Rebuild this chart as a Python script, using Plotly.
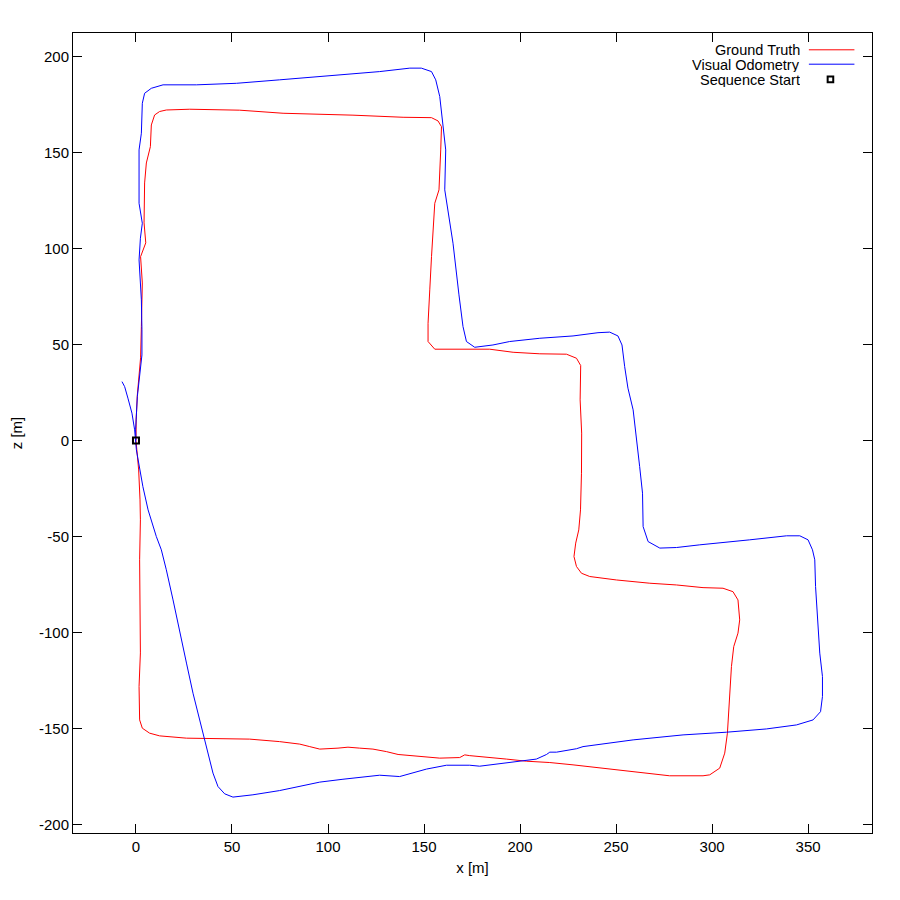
import plotly.graph_objects as go

# ground truth trajectory (x, z in metres)
gt_x = [0, 0.1, 0.7, 1.6, 2.4, 2.8, 3.3, 2.4, 5.1, 4.2, 4.5, 5.4, 7.5, 8.0, 9.7, 12.3, 15.8,
        28.0, 54.0, 76.6, 95.7, 113.0, 139.1, 153.9, 157.3, 159.1, 158.7, 157.8, 155.6, 154.7,
        153.9, 153.0, 152.1, 152.1, 155.6, 184.2, 196.4, 210.3, 224.2, 229.4, 231.6, 231.3,
        232.1, 232.0, 231.5, 230.6, 229.0, 228.1, 229.4, 232.0, 236.3, 250.2, 267.6, 281.5,
        295.3, 305.7, 310.9, 313.5, 314.4, 313.5, 311.3, 310.1, 309.2, 308.0, 306.6, 304.0,
        298.8, 295.3, 277.9, 258.9, 241.5, 227.6, 215.5, 203.3, 192.9, 182.5, 173.8, 171.2,
        168.6, 158.2, 151.3, 144.3, 136.5, 130.4, 123.4, 116.5, 110.4, 105.2, 95.7, 90.5,
        85.3, 74.8, 59.2, 26.3, 12.3, 7.1, 3.3, 1.9, 1.6, 2.3, 1.9, 2.3, 2.1, 1.4, 0.4, 0]
gt_z = [0, 10.7, 23.7, 34.1, 43.0, 59.3, 82.0, 95.7, 102.9, 113.3, 134.1, 144.5, 153.0, 164.3,
        169.5, 171.3, 172.1, 172.5, 172.0, 170.4, 170.0, 169.4, 168.3, 168.1, 166.4, 163.4,
        151.3, 130.5, 123.5, 111.4, 95.7, 78.4, 61.0, 51.5, 47.5, 47.5, 45.9, 45.1, 44.9,
        42.8, 39.0, 21.1, 3.8, -17.1, -36.2, -46.6, -53.5, -60.5, -65.7, -69.2, -70.9, -72.7,
        -74.4, -75.3, -76.7, -77.0, -78.8, -83.1, -93.5, -100.4, -107.4, -117.8, -133.4,
        -152.5, -162.9, -170.7, -174.2, -174.7, -174.7, -172.5, -170.4, -169.0, -167.8,
        -167.1, -166.0, -165.2, -164.2, -163.8, -165.2, -165.5, -165.0, -164.3, -163.6,
        -162.1, -160.8, -160.3, -159.8, -160.3, -160.8, -159.5, -158.2, -156.9, -155.6,
        -155.1, -153.9, -152.5, -149.9, -145.6, -128.2, -110.7, -62.2, -41.4, -31.0, -15.4,
        -6.5, 0]

# visual odometry trajectory
vo_x = [0, -0.2, 0.7, 1.9, 3.1, 3.1, 2.8, 1.6, 2.3, 3.3, 1.6, 1.6, 2.8, 3.3, 4.5, 8.0, 14.1,
        31.5, 52.3, 74.8, 92.2, 109.6, 126.9, 142.6, 148.6, 153.9, 156.1, 158.2, 161.3, 160.8,
        162.5, 165.1, 168.2, 170.3, 172.1, 176.4, 185.9, 194.6, 210.3, 227.6, 240.6, 246.7,
        251.0, 253.1, 254.5, 256.2, 258.9, 260.9, 262.3, 263.8, 264.1, 266.7, 272.8, 281.5,
        293.6, 319.6, 338.8, 345.7, 350.0, 352.3, 353.5, 353.9, 354.9, 356.1, 357.5, 357.5,
        356.5, 352.6, 344.0, 328.3, 307.5, 284.9, 258.9, 232.8, 229.4, 219.0, 215.5, 213.8,
        208.5, 199.8, 189.4, 179.0, 173.8, 161.7, 151.3, 144.3, 137.3, 126.9, 120.0, 107.8,
        95.7, 85.3, 74.8, 60.9, 50.5, 46.2, 42.7, 40.1, 36.7, 33.2, 29.7, 26.3, 22.8, 19.3,
        15.8, 13.2, 10.6, 8.0, 6.3, 3.6, 1.9, 0.2, -0.7, -2.1, -4.2, -5.9, -7.3]
vo_z = [0, 5.5, 22.8, 35.0, 44.5, 57.6, 73.2, 94.0, 105.3, 113.1, 123.5, 151.3, 160.0, 175.6,
        180.8, 183.4, 185.2, 185.2, 186.0, 187.8, 189.2, 190.9, 192.1, 193.9, 193.9, 192.1,
        187.8, 179.1, 151.3, 130.5, 120.1, 102.7, 75.8, 59.3, 51.5, 48.5, 49.7, 51.5, 53.2,
        54.4, 56.1, 56.4, 54.4, 49.7, 38.4, 27.2, 15.9, 0.3, -13.6, -27.5, -44.9, -52.7,
        -56.1, -55.8, -54.4, -51.8, -49.7, -49.7, -51.8, -57.0, -62.2, -76.1, -93.5, -110.8,
        -123.0, -133.4, -141.3, -145.6, -148.2, -150.3, -152.0, -153.4, -156.0, -159.5,
        -160.6, -162.4, -162.4, -163.6, -166.0, -167.1, -168.5, -169.7, -169.2, -169.2,
        -171.2, -173.3, -175.1, -174.4, -175.1, -176.5, -178.0, -180.3, -182.4, -184.6,
        -185.8, -184.1, -180.3, -173.3, -159.5, -145.6, -131.7, -116.0, -100.4, -83.1, -67.4,
        -57.0, -50.1, -41.4, -36.2, -24.1, -13.6, -4.9, 5.5, 14.2, 22.0, 28.0, 30.6]

start_x = [0]
start_z = [0]

# tick labels (gnuplot prints a plain hyphen for negatives)
x_ticks = [0, 50, 100, 150, 200, 250, 300, 350]
x_labels = ["0", "50", "100", "150", "200", "250", "300", "350"]
y_ticks = [-200, -150, -100, -50, 0, 50, 100, 150, 200]
y_labels = ["-200", "-150", "-100", "-50", "0", "50", "100", "150", "200"]

FONT = "Liberation Sans, Arial, sans-serif"

fig = go.Figure()
fig.add_trace(go.Scatter(x=gt_x, y=gt_z, mode="lines", name="Ground Truth",
                         line=dict(color="#ff0000", width=1)))
fig.add_trace(go.Scatter(x=vo_x, y=vo_z, mode="lines", name="Visual Odometry",
                         line=dict(color="#0000ff", width=1)))
fig.add_trace(go.Scatter(x=start_x, y=start_z, mode="markers", name="Sequence Start",
                         marker=dict(symbol="square-open", size=6, color="black",
                                     line=dict(width=2, color="black"))))

axis_common = dict(showline=True, linecolor="black", linewidth=1, mirror="ticks",
                   ticks="inside", ticklen=9, tickcolor="black", tickwidth=1,
                   showgrid=False, zeroline=False, automargin=False,
                   tickfont=dict(family=FONT, size=15, color="black"))

fig.update_xaxes(range=[-32.8, 383.3], tickvals=x_ticks, ticktext=x_labels,
                 title=dict(text="x [m]", font=dict(family=FONT, size=15, color="black"),
                            standoff=8),
                 **axis_common)
fig.update_yaxes(range=[-204.5, 212.2], tickvals=y_ticks, ticktext=y_labels,
                 title=dict(text="z [m]", font=dict(family=FONT, size=15, color="black"),
                            standoff=12),
                 **axis_common)

# gnuplot-style key: text right-aligned, sample to its right
key_rows = [("Ground Truth", 0.980), ("Visual Odometry", 0.961), ("Sequence Start", 0.942)]
for txt, yy in key_rows:
    fig.add_annotation(x=0.912, y=yy, xref="paper", yref="paper", text=txt,
                       showarrow=False, xanchor="right", yanchor="middle", height=15,
                       font=dict(family=FONT, size=14.5, color="black"))
fig.add_shape(type="line", xref="paper", yref="paper", x0=0.921, x1=0.978,
              y0=0.979, y1=0.979, line=dict(color="#ff0000", width=1))
fig.add_shape(type="line", xref="paper", yref="paper", x0=0.921, x1=0.978,
              y0=0.961, y1=0.961, line=dict(color="#0000ff", width=1))
fig.add_shape(type="rect", xref="paper", yref="paper", x0=0.9445, x1=0.9515,
              y0=0.9385, y1=0.9455, line=dict(color="black", width=2))

# margins allow for the 8px page offset in the browser
fig.update_layout(width=900, height=900, showlegend=False,
                  plot_bgcolor="white", paper_bgcolor="white",
                  margin=dict(l=65, r=36, t=25, b=75),
                  font=dict(family=FONT, size=15, color="black"))

fig.write_html("out.html")
